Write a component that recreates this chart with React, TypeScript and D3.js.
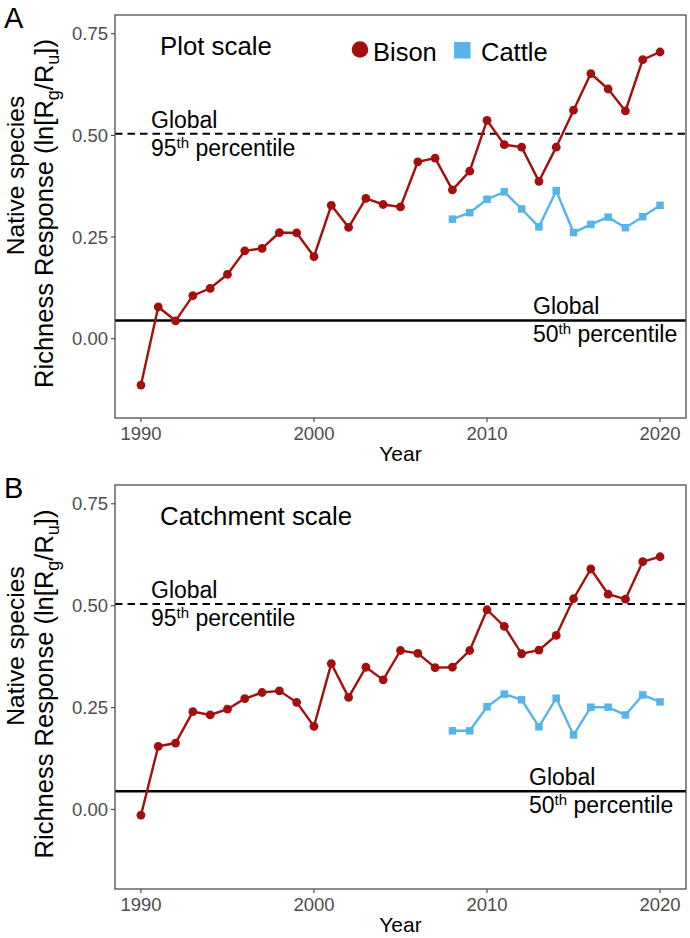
import React from "react";
import * as d3 from "d3";

const bisonYears = [1990, 1991, 1992, 1993, 1994, 1995, 1996, 1997, 1998, 1999, 2000, 2001, 2002, 2003, 2004, 2005, 2006, 2007, 2008, 2009, 2010, 2011, 2012, 2013, 2014, 2015, 2016, 2017, 2018, 2019, 2020];
const cattleYears = [2008, 2009, 2010, 2011, 2012, 2013, 2014, 2015, 2016, 2017, 2018, 2019, 2020];

const plotBison = [-0.114, 0.078, 0.044, 0.106, 0.124, 0.158, 0.216, 0.222, 0.261, 0.26, 0.202, 0.328, 0.274, 0.345, 0.33, 0.324, 0.435, 0.444, 0.366, 0.412, 0.537, 0.477, 0.471, 0.387, 0.471, 0.562, 0.652, 0.614, 0.56, 0.686, 0.705];
const plotCattle = [0.294, 0.31, 0.343, 0.361, 0.319, 0.275, 0.364, 0.261, 0.281, 0.299, 0.273, 0.3, 0.328];

const catchBison = [-0.014, 0.155, 0.163, 0.24, 0.232, 0.246, 0.272, 0.287, 0.291, 0.263, 0.204, 0.358, 0.275, 0.349, 0.318, 0.39, 0.383, 0.348, 0.349, 0.39, 0.49, 0.449, 0.382, 0.391, 0.427, 0.517, 0.59, 0.528, 0.516, 0.608, 0.62];
const catchCattle = [0.193, 0.193, 0.252, 0.283, 0.269, 0.203, 0.273, 0.183, 0.251, 0.251, 0.232, 0.281, 0.264];

const xTicks = [1990, 2000, 2010, 2020];
const yTicks = [0, 0.25, 0.5, 0.75];
const yTickLabels = ["0.00", "0.25", "0.50", "0.75"];
const global95 = 0.504;
const global50 = 0.045;

const BISON = "#A30E0E";
const CATTLE = "#56B4E9";
const FONT = "'Liberation Sans', Arial, Helvetica, sans-serif";

type PanelProps = {
  top: number;
  bottom: number;
  letter: string;
  title: string;
  bison: number[];
  cattle: number[];
  showLegend: boolean;
  g50x: number;
};

function Panel({ top, bottom, letter, title, bison, cattle, showLegend, g50x }: PanelProps) {
  const left = 115;
  const right = 686;
  const x = d3.scaleLinear().domain([1988.5, 2021.5]).range([left, right]);
  const y = d3.scaleLinear().domain([-0.195, 0.796]).range([bottom, top]);
  const line = d3
    .line<[number, number]>()
    .x((d) => x(d[0]))
    .y((d) => y(d[1]));
  const bData: [number, number][] = bisonYears.map((yr, i) => [yr, bison[i]]);
  const cData: [number, number][] = cattleYears.map((yr, i) => [yr, cattle[i]]);
  const cy = (top + bottom) / 2;
  const sq = 7.5;
  return (
    <g>
      <text x={4} y={top + 13} fontSize={29} fontFamily={FONT} fill="#000">
        {letter}
      </text>
      {/* y axis title */}
      <g transform={`translate(23.5, ${cy - 41}) rotate(-90)`}>
        <text textAnchor="middle" fontSize={24.5} fontFamily={FONT} fill="#000">
          Native species
        </text>
      </g>
      <g transform={`translate(53, ${cy - 3}) rotate(-90)`}>
        <text textAnchor="middle" fontSize={25.5} fontFamily={FONT} fill="#000">
          Richness Response (ln[R
          <tspan dy={6} fontSize={18}>g</tspan>
          <tspan dy={-6}>/R</tspan>
          <tspan dy={6} fontSize={18}>u</tspan>
          <tspan dy={-6}>])</tspan>
        </text>
      </g>
      {/* reference lines */}
      <line x1={left} x2={right} y1={y(global95)} y2={y(global95)} stroke="#000" strokeWidth={2} strokeDasharray="7.5,5" />
      <line x1={left} x2={right} y1={y(global50)} y2={y(global50)} stroke="#000" strokeWidth={2.5} />
      {/* series */}
      <path d={line(cData) || ""} fill="none" stroke={CATTLE} strokeWidth={2.4} />
      {cData.map((d, i) => (
        <rect key={"c" + i} x={x(d[0]) - sq / 2} y={y(d[1]) - sq / 2} width={sq} height={sq} fill={CATTLE} />
      ))}
      <path d={line(bData) || ""} fill="none" stroke={BISON} strokeWidth={2.4} />
      {bData.map((d, i) => (
        <circle key={"b" + i} cx={x(d[0])} cy={y(d[1])} r={4.4} fill={BISON} />
      ))}
      {/* frame */}
      <rect x={left} y={top} width={right - left} height={bottom - top} fill="none" stroke="#4D4D4D" strokeWidth={1.3} />
      {/* y ticks */}
      {yTicks.map((t, i) => (
        <g key={"yt" + i}>
          <line x1={left - 4} x2={left} y1={y(t)} y2={y(t)} stroke="#4D4D4D" strokeWidth={1.2} />
          <text x={left - 7} y={y(t)} dy="0.36em" textAnchor="end" fontSize={18.5} fontFamily={FONT} fill="#4D4D4D">
            {yTickLabels[i]}
          </text>
        </g>
      ))}
      {/* x ticks */}
      {xTicks.map((t, i) => (
        <g key={"xt" + i}>
          <line x1={x(t)} x2={x(t)} y1={bottom} y2={bottom + 4} stroke="#4D4D4D" strokeWidth={1.2} />
          <text x={x(t)} y={bottom + 22} textAnchor="middle" fontSize={18.5} fontFamily={FONT} fill="#4D4D4D">
            {t}
          </text>
        </g>
      ))}
      <text x={(left + right) / 2} y={bottom + 43} textAnchor="middle" fontSize={21} fontFamily={FONT} fill="#000">
        Year
      </text>
      {/* annotations */}
      <text x={160} y={top + 40} fontSize={25.8} fontFamily={FONT} fill="#000">
        {title}
      </text>
      <text x={151} y={y(global95) - 6} fontSize={23} fontFamily={FONT} fill="#000">
        Global
      </text>
      <text x={151} y={y(global95) + 22} fontSize={23} fontFamily={FONT} fill="#000">
        95<tspan dy={-8} fontSize={15}>th</tspan>
        <tspan dy={8}> percentile</tspan>
      </text>
      <text x={g50x} y={y(global50) - 6} fontSize={23} fontFamily={FONT} fill="#000">
        Global
      </text>
      <text x={g50x} y={y(global50) + 22} fontSize={23} fontFamily={FONT} fill="#000">
        50<tspan dy={-8} fontSize={15}>th</tspan>
        <tspan dy={8}> percentile</tspan>
      </text>
      {showLegend && (
        <g>
          <circle cx={360} cy={top + 34.5} r={8.3} fill={BISON} />
          <text x={373} y={top + 46} fontSize={25.5} fontFamily={FONT} fill="#000">
            Bison
          </text>
          <rect x={454} y={top + 27} width={16.5} height={16.5} fill={CATTLE} />
          <text x={481} y={top + 46} fontSize={25.5} fontFamily={FONT} fill="#000">
            Cattle
          </text>
        </g>
      )}
    </g>
  );
}

export default function App() {
  return (
    <div style={{ position: "absolute", left: 0, top: 0 }}>
      <svg width={690} height={938} style={{ display: "block", background: "#fff" }}>
        <Panel top={15} bottom={418} letter="A" title="Plot scale" bison={plotBison} cattle={plotCattle} showLegend={true} g50x={533} />
        <Panel top={485} bottom={889} letter="B" title="Catchment scale" bison={catchBison} cattle={catchCattle} showLegend={false} g50x={529} />
      </svg>
    </div>
  );
}
